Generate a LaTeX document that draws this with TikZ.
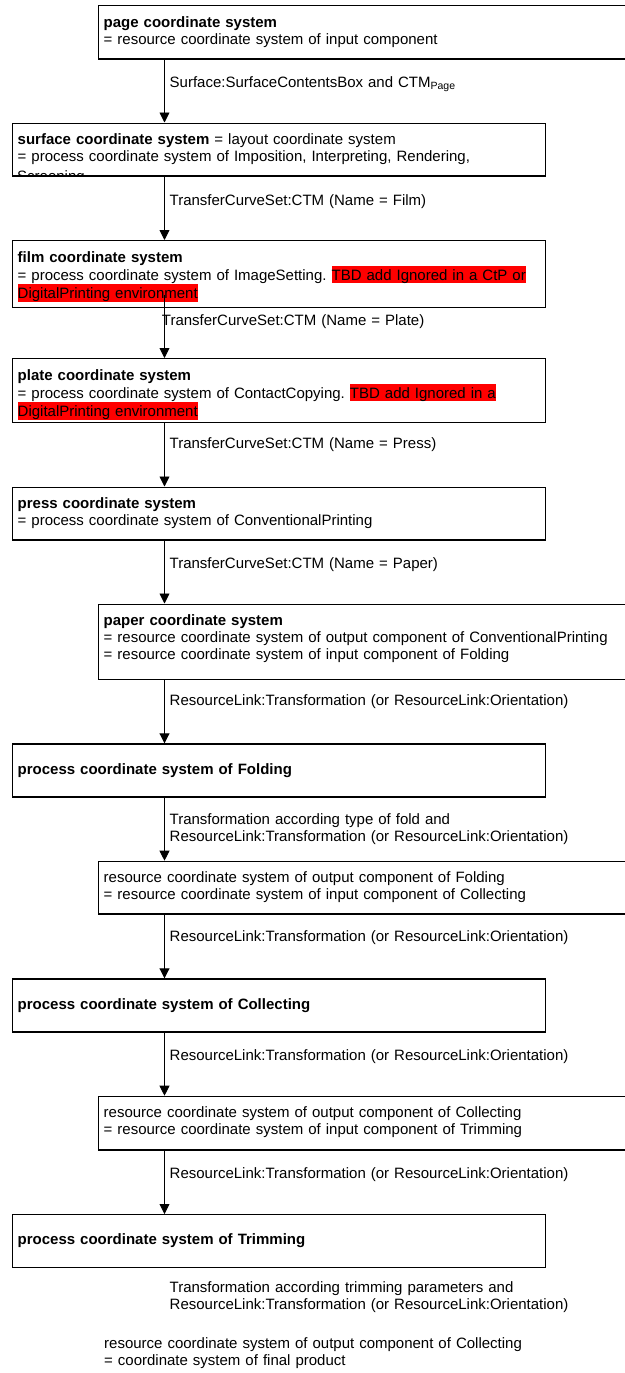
\documentclass[tikz,border=0pt]{standalone}
\usepackage{fontspec}
\setmainfont{Liberation Sans}
\usepackage{xcolor}
\usetikzlibrary{arrows.meta, positioning}
\newcommand{\tbd}[1]{{\setlength{\fboxsep}{0pt}\colorbox{red}{\rule[-3pt]{0pt}{17pt}#1}}}
\frenchspacing

\begin{document}
\begin{tikzpicture}[x=1pt, y=-1pt,
  every node/.style={font=\fontsize{15}{17}\selectfont},
  csys/.style={draw, line width=1.4pt, anchor=north west, align=left, inner xsep=5pt, inner ysep=0pt,
    text width=523pt, text height=21.5pt, text depth=\dimexpr#1-21.5pt\relax},
  proc/.style={csys=53pt, text height=30pt, text depth=23pt},
  wide/.style={text width=530pt},
  lbl/.style={anchor=base west, inner sep=0pt, align=left, text width=440pt},
  link/.style={-{Triangle[length=10pt,width=10pt]}, line width=0.9pt}]
  \useasboundingbox (0,0) rectangle (624,1373); % page size
  \coordinate (ax) at (164.5,0); % all arrows run on this line

  % coordinate systems
  \node[csys=53.3pt, wide] (page) at (98,5) {\textbf{page coordinate system}\\= resource coordinate system of input component};
  \node[csys=52.7pt] (surface) at (12,122.5) {\textbf{surface coordinate system} = layout coordinate system\\= process coordinate system of Imposition, Interpreting, Rendering,};
  \begin{scope}
    \clip (surface.north west) rectangle ([yshift=1pt]surface.south east);
    \node[lbl] (screening) at (17,181) {Screening}; % cut off by the box
  \end{scope}
  \node[csys=67pt] (film) at (12,240) {\textbf{film coordinate system}\\= process coordinate system of ImageSetting. \tbd{TBD add Ignored in a CtP or}\\\tbd{DigitalPrinting environment}};
  \node[csys=63.5pt] (plate) at (12,358) {\textbf{plate coordinate system}\\= process coordinate system of ContactCopying. \tbd{TBD add Ignored in a}\\\tbd{DigitalPrinting environment}};
  \node[csys=52.8pt] (press) at (12,486.5) {\textbf{press coordinate system}\\= process coordinate system of ConventionalPrinting};
  \node[csys=75pt, wide] (paper) at (98,603.5) {\textbf{paper coordinate system}\\= resource coordinate system of output component of ConventionalPrinting\\= resource coordinate system of input component of Folding};
  \node[proc] (foldproc) at (12,743.3) {\textbf{process coordinate system of Folding}};
  \node[csys=52.7pt, wide] (foldout) at (98,860.7) {resource coordinate system of output component of Folding\\= resource coordinate system of input component of Collecting};
  \node[proc] (collproc) at (12,978.3) {\textbf{process coordinate system of Collecting}};
  \node[csys=53.6pt, wide] (collout) at (98,1095.7) {resource coordinate system of output component of Collecting\\= resource coordinate system of input component of Trimming};
  \node[proc] (trimproc) at (12,1214) {\textbf{process coordinate system of Trimming}};
  \node[lbl] (final) at (104,1348) {resource coordinate system of output component of Collecting\\= coordinate system of final product};

  % transformations
  \foreach \a/\b in {page/surface, surface/film, plate/press, press/paper, paper/foldproc,
                     foldproc/foldout, foldout/collproc, collproc/collout, collout/trimproc}
  {\draw[link] (\a.south -| ax) -- (\b.north -| ax);}
  \draw[link] ([yshift=13pt]film.south -| ax) -- (plate.north -| ax); % starts inside the film box

  \node[lbl] (t-page) at (169.5,87) {Surface:SurfaceContentsBox and CTM\textsubscript{Page}};
  \node[lbl] (t-film) at (169.5,205.7) {TransferCurveSet:CTM (Name = Film)};
  \node[lbl] (t-plate) at (161.7,325) {TransferCurveSet:CTM (Name = Plate)};
  \node[lbl] (t-press) at (169.5,448) {TransferCurveSet:CTM (Name = Press)};
  \node[lbl] (t-paper) at (169.5,568.3) {TransferCurveSet:CTM (Name = Paper)};
  \node[lbl] (t-fold) at (169.5,705) {ResourceLink:Transformation (or ResourceLink:Orientation)};
  \node[lbl] (t-foldtype) at (169.5,824.5) {Transformation according type of fold and\\ResourceLink:Transformation (or ResourceLink:Orientation)};
  \node[lbl] (t-coll) at (169.5,941.7) {ResourceLink:Transformation (or ResourceLink:Orientation)};
  \node[lbl] (t-collout) at (169.5,1060) {ResourceLink:Transformation (or ResourceLink:Orientation)};
  \node[lbl] (t-trim) at (169.5,1178) {ResourceLink:Transformation (or ResourceLink:Orientation)};
  \node[lbl] (t-trimparam) at (169.5,1292) {Transformation according trimming parameters and\\ResourceLink:Transformation (or ResourceLink:Orientation)};
\end{tikzpicture}
\end{document}
